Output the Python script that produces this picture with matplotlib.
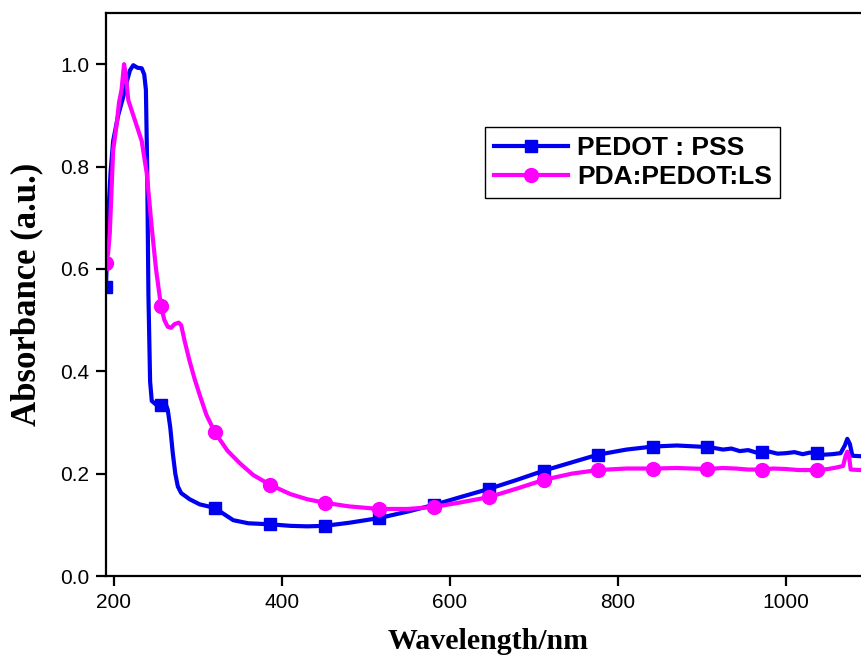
import matplotlib
matplotlib.use("Agg")
import matplotlib.pyplot as plt

# PEDOT:PSS (blue, squares)
pss_x = [190.5, 193, 196, 199, 205, 211, 216, 219, 223, 228, 233, 236, 238, 239.5, 241, 243, 245,
         250, 256, 262, 264, 267, 270, 273, 276, 280, 290, 302, 320, 330, 342, 360, 386, 410, 430,
         451, 480, 515, 550, 581, 610, 646, 680, 712, 745, 776, 810, 842, 870, 906, 915, 925, 935,
         945, 955, 965, 971, 980, 990, 1000, 1010, 1020, 1028, 1037, 1045, 1055, 1060, 1065, 1070,
         1073, 1076, 1079, 1089]
pss_y = [0.565, 0.70, 0.79, 0.85, 0.90, 0.936, 0.97, 0.988, 0.998, 0.993, 0.992, 0.98, 0.95, 0.80,
         0.55, 0.38, 0.342, 0.335, 0.335, 0.334, 0.325, 0.29, 0.24, 0.20, 0.175, 0.162, 0.150, 0.140,
         0.133, 0.122, 0.109, 0.103, 0.101, 0.098, 0.097, 0.098, 0.104, 0.113, 0.126, 0.139, 0.153,
         0.170, 0.188, 0.206, 0.222, 0.237, 0.247, 0.253, 0.255, 0.252, 0.250, 0.247, 0.249, 0.244,
         0.246, 0.241, 0.242, 0.243, 0.239, 0.240, 0.242, 0.238, 0.241, 0.241, 0.237, 0.238, 0.239,
         0.240, 0.255, 0.268, 0.258, 0.235, 0.234]

# PDA:PEDOT:LS (magenta, circles)
ls_x = [190.5, 193, 195, 197, 199, 203, 206, 209, 212, 214, 217, 221, 227, 233, 239, 245, 250, 256,
        260, 264, 268, 272, 277, 280, 284, 290, 296, 302, 310, 320, 335, 350, 366, 386, 410, 430,
        451, 480, 515, 550, 581, 610, 646, 680, 712, 745, 776, 810, 842, 870, 906, 925, 940, 955,
        971, 985, 1000, 1015, 1037, 1050, 1060, 1068, 1071, 1073, 1075, 1077, 1089]
ls_y = [0.612, 0.63, 0.67, 0.75, 0.832, 0.88, 0.925, 0.95, 1.0, 0.98, 0.93, 0.91, 0.88, 0.85, 0.787,
        0.68, 0.60, 0.527, 0.50, 0.487, 0.485, 0.492, 0.495, 0.49, 0.46, 0.42, 0.385, 0.354, 0.315,
        0.281, 0.245, 0.220, 0.197, 0.178, 0.160, 0.150, 0.143, 0.136, 0.131, 0.131, 0.135, 0.143,
        0.154, 0.171, 0.188, 0.200, 0.207, 0.210, 0.210, 0.211, 0.209, 0.211, 0.210, 0.208, 0.208,
        0.210, 0.209, 0.207, 0.207, 0.209, 0.212, 0.215, 0.235, 0.243, 0.235, 0.208, 0.207]

marker_x = [190.5, 256, 320, 386, 451, 515, 581, 646, 712, 776, 842, 906, 971, 1037]

labels = ["PEDOT : PSS", "PDA:PEDOT:LS"]
x_ticks = [200, 400, 600, 800, 1000]
y_ticks = [0.0, 0.2, 0.4, 0.6, 0.8, 1.0]

fig = plt.figure(figsize=(8.61, 6.63), dpi=100)
ax = fig.add_axes([106 / 861, 87 / 663, 764 / 861, 563 / 663])

pss_idx = [pss_x.index(m) for m in marker_x]
ls_idx = [ls_x.index(m) for m in marker_x]

ax.plot(pss_x, pss_y, color="#0000F0", lw=3, marker="s", markersize=8.5,
        markevery=pss_idx, label=labels[0], solid_joinstyle="round")
ax.plot(ls_x, ls_y, color="#FF00FF", lw=3, marker="o", markersize=10,
        markevery=ls_idx, label=labels[1], solid_joinstyle="round")

ax.set_xlim(190.5, 1100)
ax.set_ylim(0.0, 1.1)
ax.set_xticks(x_ticks)
ax.set_yticks(y_ticks)
ax.set_yticklabels([f"{v:.1f}" for v in y_ticks])

for s in ax.spines.values():
    s.set_linewidth(1.6)
ax.tick_params(direction="out", length=7, width=1.6, labelsize=15, pad=5)
for lab in ax.get_xticklabels() + ax.get_yticklabels():
    lab.set_fontfamily("Liberation Sans")

ax.set_xlabel("Wavelength/nm", fontfamily="Liberation Serif", fontweight="bold",
              fontsize=21.5, labelpad=12)
ax.set_ylabel("Absorbance (a.u.)", fontfamily="Liberation Serif", fontweight="bold",
              fontsize=25, labelpad=12)

leg = ax.legend(loc="upper left", bbox_to_anchor=(0.496, 0.797), borderaxespad=0,
                prop={"family": "Liberation Sans", "weight": "bold", "size": 19},
                fancybox=False, edgecolor="black", framealpha=1, handlelength=2.8,
                handletextpad=0.35, borderpad=0.33, labelspacing=0.2)
leg.get_frame().set_linewidth(1.0)

fig.savefig("out.png", dpi=100)
